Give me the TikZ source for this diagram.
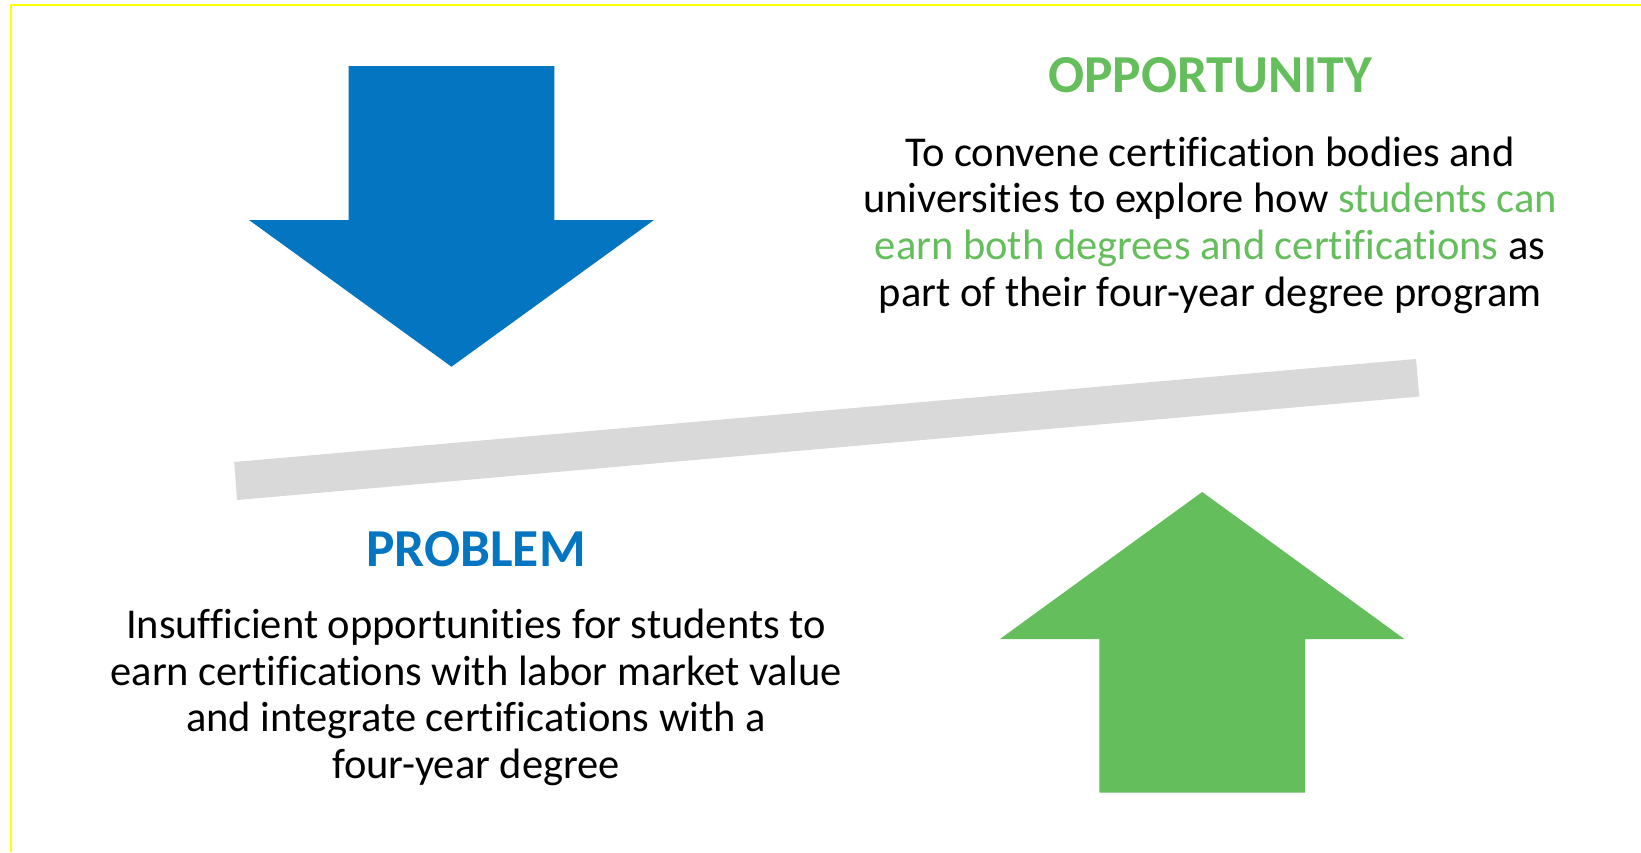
\documentclass[tikz,border=0pt]{standalone}
\usepackage{fontspec}
\setmainfont{Carlito}[Ligatures=NoCommon]
\definecolor{arrowblue}{HTML}{0476C1}
\definecolor{arrowgreen}{HTML}{65BE5C}
\definecolor{bargray}{HTML}{D9D9D9}
\definecolor{frameyellow}{HTML}{FFFF00}
\begin{document}
\begin{tikzpicture}[x=1pt,y=-1pt,
  title/.style={inner sep=0pt, anchor=base, font=\fontsize{53.4}{60}\selectfont\bfseries},
  body/.style={inner sep=0pt, anchor=base, font=\fontsize{42.5}{47}\selectfont, text=black},
  frame/.style={draw=frameyellow, line width=2.2pt}]
\useasboundingbox[fill=white] (0,0) rectangle (1641,852);
% yellow frame
\coordinate (ftr) at (1641,5);
\coordinate (ftl) at (11,5);
\coordinate (fbl) at (11,852);
\draw[frame] (ftr) -- (ftl) -- (fbl);
% blue arrow (down)
\fill[arrowblue] (348.7,66) -- (554.3,66) -- (554.3,220) -- (654,220) -- (451.5,366.7) -- (249,220) -- (348.7,220) -- cycle;
% green arrow (up)
\fill[arrowgreen] (1202.2,492) -- (1404.3,639) -- (1305,639) -- (1305,792.7) -- (1099.3,792.7) -- (1099.3,639) -- (1000,639) -- cycle;
% gray bar
\fill[bargray] (234.3,462) -- (1416,359) -- (1419.3,396.5) -- (237,500) -- cycle;
% Opportunity text
\node[title, text=arrowgreen] (opt) at (1210,92.7) {OPPORTUNITY};
\node[body] (op1) at (1210,166) {To convene certification bodies and};
\node[body] (op2) at (1210,212.7) {universities to explore how \textcolor{arrowgreen}{students can}};
\node[body] (op3) at (1210,259.5) {\textcolor{arrowgreen}{earn both degrees and certifications} as};
\node[body] (op4) at (1210,306.3) {part of their four-year degree program};
% Problem text
\node[title, text=arrowblue] (prt) at (476,566) {PROBLEM};
\node[body] (pr1) at (476,638.3) {Insufficient opportunities for students to};
\node[body] (pr2) at (476,685) {earn certifications with labor market value};
\node[body] (pr3) at (476,731.7) {and integrate certifications with a};
\node[body] (pr4) at (476,778.3) {four-year degree};
\end{tikzpicture}
\end{document}
